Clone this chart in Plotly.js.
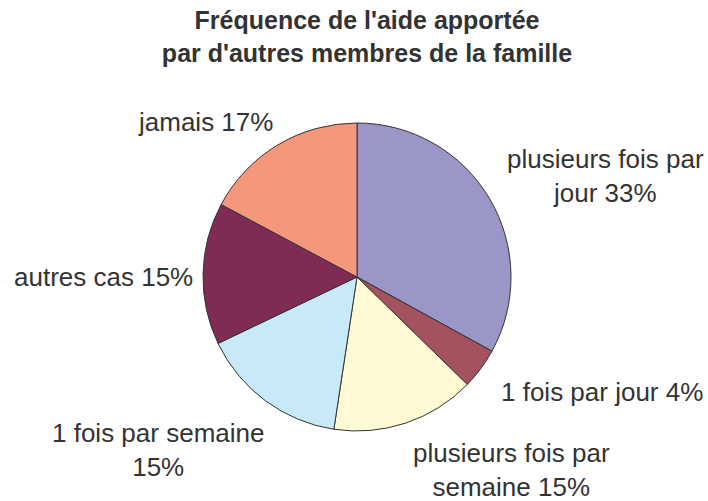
<!DOCTYPE html>
<html>
<head>
<meta charset="utf-8">
<script src="https://cdn.plot.ly/plotly-3.0.1.min.js"></script>
<style>html,body{margin:0;padding:0;background:#fff;}#chart{width:708px;height:501px;}</style>
</head>
<body>
<div id="chart"></div>
<script>
const categories = ["plusieurs fois par jour", "1 fois par jour", "plusieurs fois par semaine", "1 fois par semaine", "autres cas", "jamais"];
const values = [33.0, 4.3, 15.1, 15.5, 14.9, 17.2];
const labelTexts = ["plusieurs fois par<br>jour 33%", "1 fois par jour 4%", "plusieurs fois par<br>semaine 15%", "1 fois par semaine<br>15%", "autres cas 15%", "jamais 17%"];
const colors = ["#9b96c8", "#a3525e", "#fffad3", "#c7e9f8", "#7f2b56", "#f4977a"];

const W = 708, H = 501;
const cx = 357, cy = 277, r = 154;
const labelPos = [[605, 176], [602, 392], [511, 470], [158, 450], [103, 277], [205, 122]];

const trace = {
  type: "pie",
  labels: categories,
  values: values,
  sort: false,
  direction: "clockwise",
  rotation: 0,
  textinfo: "none",
  hoverinfo: "label+percent",
  marker: {colors: colors, line: {color: "#333333", width: 1}},
  domain: {x: [(cx - r) / W, (cx + r) / W], y: [(H - cy - r) / H, (H - cy + r) / H]},
  showlegend: false
};

const annotations = labelTexts.map((t, i) => ({
  text: t,
  x: labelPos[i][0] / W,
  y: 1 - labelPos[i][1] / H,
  xref: "paper", yref: "paper",
  showarrow: false,
  align: "center",
  xanchor: "center", yanchor: "middle",
  font: {family: "Liberation Sans, Arial, sans-serif", size: 26, color: "#333333"}
}));

const layout = {
  width: W, height: H,
  margin: {l: 0, r: 0, t: 0, b: 0},
  paper_bgcolor: "#ffffff",
  title: {
    text: "<b>Fréquence de l'aide apportée<br>par d'autres membres de la famille</b>",
    x: 367 / W, xanchor: "center",
    y: 1 - 29 / H, yanchor: "top",
    font: {family: "Liberation Sans, Arial, sans-serif", size: 25, color: "#333333"}
  },
  annotations: annotations
};

Plotly.newPlot("chart", [trace], layout, {displayModeBar: false, staticPlot: true});
</script>
</body>
</html>
